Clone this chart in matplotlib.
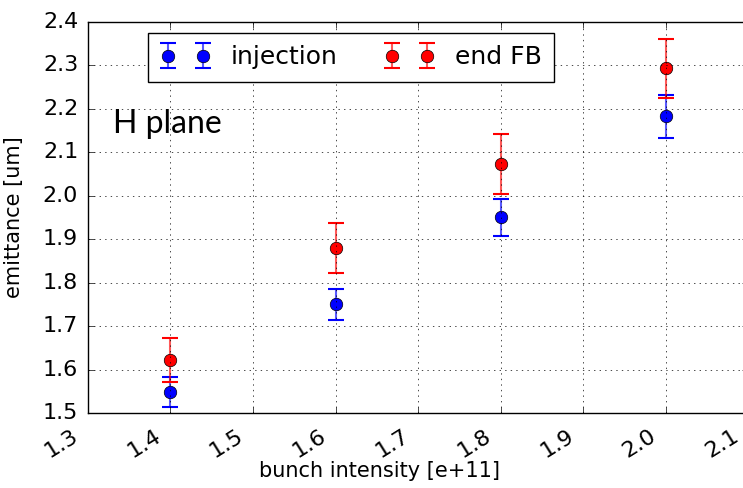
import matplotlib
matplotlib.use('Agg')
import matplotlib.pyplot as plt
from matplotlib.ticker import MultipleLocator, FormatStrFormatter
from matplotlib.transforms import ScaledTranslation

intensity = [1.4, 1.6, 1.8, 2.0]

emit_inj = [1.548, 1.750, 1.950, 2.183]
err_inj = [0.034, 0.035, 0.043, 0.050]

emit_fb = [1.622, 1.880, 2.072, 2.293]
err_fb = [0.050, 0.058, 0.069, 0.067]

plt.style.use('classic')
plt.rcParams['figure.facecolor'] = 'white'
plt.rcParams['savefig.facecolor'] = 'white'

fig = plt.figure(figsize=(7.43, 4.88), dpi=100)
ax = fig.add_axes([0.1184, 0.1537, 0.8886, 0.8013])

ax.errorbar(intensity, emit_inj, yerr=err_inj, fmt='o', color='blue', ecolor='blue',
            markersize=9, markeredgecolor='black', elinewidth=1.5, capsize=6,
            capthick=1.5, label='injection')
ax.errorbar(intensity, emit_fb, yerr=err_fb, fmt='o', color='red', ecolor='red',
            markersize=9, markeredgecolor='black', elinewidth=1.5, capsize=6,
            capthick=1.5, label='end FB')
for c in ax.collections:
    c.set_alpha(0.65)

ax.set_xlim(1.3, 2.1)
ax.set_ylim(1.5, 2.4)
ax.xaxis.set_major_locator(MultipleLocator(0.1))
ax.yaxis.set_major_locator(MultipleLocator(0.1))
ax.xaxis.set_major_formatter(FormatStrFormatter('%.1f'))
ax.yaxis.set_major_formatter(FormatStrFormatter('%.1f'))
ax.grid(True)
ax.tick_params(labelsize=16, pad=7)
shift = ScaledTranslation(-6 / 100, -3 / 100, fig.dpi_scale_trans)
for lab in ax.get_xticklabels():
    lab.set_rotation(32)
    lab.set_ha('right')
    lab.set_transform(lab.get_transform() + shift)
ax.set_xlabel('bunch intensity [e+11]', fontsize=15)
ax.set_ylabel('emittance [um]', fontsize=15)
ax.xaxis.set_label_coords(0.442, -0.123)
ax.yaxis.set_label_coords(-0.097, 0.5)

ax.text(1.33, 2.145, 'H plane', fontsize=23, family='Lato')

leg = ax.legend(loc='upper left', bbox_to_anchor=(0.091, 0.972), ncol=2, numpoints=2,
                fontsize=18, columnspacing=1.9, handletextpad=0.8, borderpad=0.5,
                borderaxespad=0)

fig.savefig('out.png', dpi=100)
